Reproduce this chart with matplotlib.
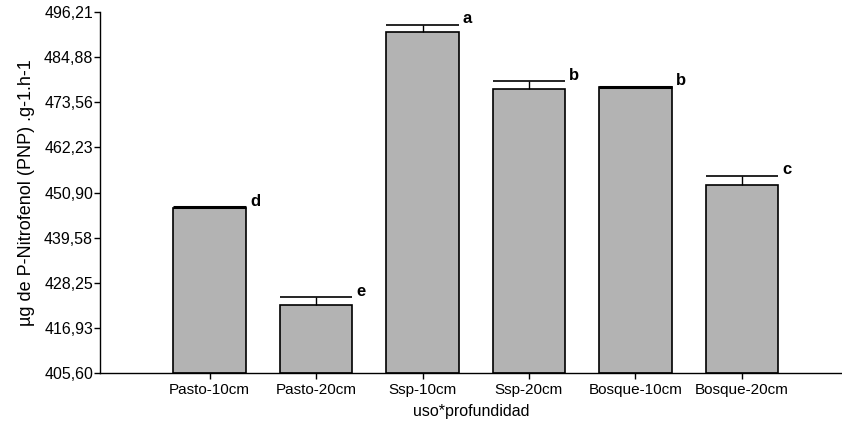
import matplotlib
matplotlib.use('Agg')
import matplotlib.pyplot as plt
import numpy as np

categories = ['Pasto-10cm', 'Pasto-20cm', 'Ssp-10cm', 'Ssp-20cm', 'Bosque-10cm', 'Bosque-20cm']
means = [447.0, 422.7, 491.2, 476.9, 477.4, 452.8]
errors = [0.15, 2.0, 1.8, 2.0, 0.1, 2.3]
letters = ['d', 'e', 'a', 'b', 'b', 'c']
ytick_values = [405.60, 416.93, 428.25, 439.58, 450.90, 462.23, 473.56, 484.88, 496.21]
ytick_labels = ['405,60', '416,93', '428,25', '439,58', '450,90', '462,23', '473,56', '484,88', '496,21']

plt.rcParams['font.family'] = ['Liberation Sans', 'DejaVu Sans']

fig = plt.figure(figsize=(8.42, 4.29), dpi=100)
ax = fig.add_axes([0.1188, 0.1305, 0.881, 0.8415])

positions = np.arange(len(categories))
bar_width = 0.68
ax.bar(positions, [m - ytick_values[0] for m in means], bar_width, bottom=ytick_values[0],
       color='#b3b3b3', edgecolor='black', linewidth=1.2, zorder=2)

for x, m, e, letter in zip(positions, means, errors, letters):
    top = m + e
    ax.vlines(x, m, top, color='black', linewidth=1.0, zorder=3)
    ax.hlines(top, x - bar_width / 2, x + bar_width / 2, color='black',
              linewidth=2.2 if e < 0.5 else 1.2, zorder=3)
    ax.annotate(letter, (x + bar_width / 2, top), xytext=(3, 1), textcoords='offset points',
                fontsize=12, fontweight='bold', ha='left', va='baseline')

ax.set_xlim(-1.03, 5.94)
ax.set_ylim(ytick_values[0], ytick_values[-1])
ax.set_yticks(ytick_values)
ax.set_yticklabels(ytick_labels)
ax.set_xticks(positions)
ax.set_xticklabels(categories)
ax.tick_params(axis='both', direction='out', length=4, width=1)
ax.tick_params(axis='y', labelsize=11.5, pad=1)
ax.tick_params(axis='x', labelsize=11, pad=3)

for side in ['top', 'right']:
    ax.spines[side].set_visible(False)
for side in ['left', 'bottom']:
    ax.spines[side].set_linewidth(1.0)

ax.set_xlabel('uso*profundidad', fontsize=11.5, labelpad=5)
ax.set_ylabel('µg de P-Nitrofenol (PNP) .g-1.h-1', fontsize=13, labelpad=6)

fig.savefig('out.png', dpi=100)
